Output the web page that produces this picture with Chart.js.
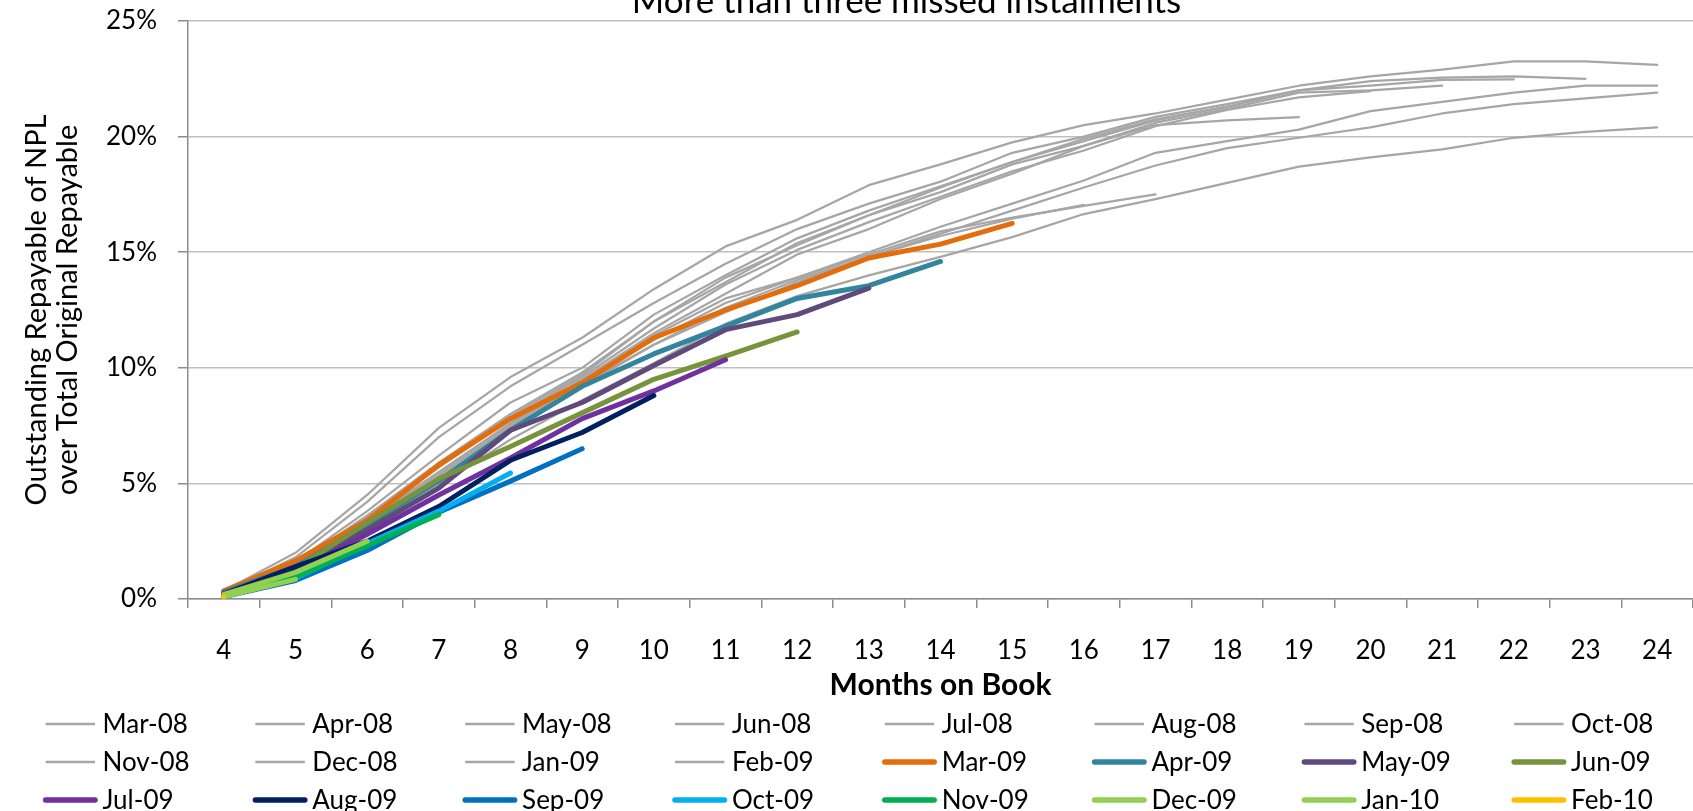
<!DOCTYPE html>
<html>
<head>
<meta charset="utf-8">
<script src="https://cdn.jsdelivr.net/npm/chart.js@4.4.1/dist/chart.umd.min.js"></script>
<style>
  html, body { margin: 0; padding: 0; background: #fff; }
  #wrap { width: 1693px; height: 811px; }
</style>
</head>
<body>
<div id="wrap"><canvas id="grafico" width="1693" height="811"></canvas></div>
<script>
// Months on book (x axis categories)
const months = ['4', '5', '6', '7', '8', '9', '10', '11', '12', '13', '14', '15', '16', '17', '18', '19', '20', '21', '22', '23', '24'];

// Outstanding NPL / original repayable, in %, by vintage
const mar08 = [0.35, 2.0, 4.5, 7.4, 9.6, 11.3, 13.4, 15.25, 16.4, 17.9, 18.8, 19.75, 20.5, 21.0, 21.6, 22.2, 22.6, 22.9, 23.25, 23.25, 23.1];
const apr08 = [0.3, 1.4, 3.4, 5.4, 7.6, 9.5, 11.4, 13.0, 13.9, 15.0, 16.1, 17.1, 18.1, 19.3, 19.8, 20.3, 21.1, 21.5, 21.9, 22.2, 22.2];
const may08 = [0.3, 1.3, 3.2, 5.2, 7.4, 9.2, 11.0, 12.6, 13.8, 14.8, 15.8, 16.8, 17.8, 18.75, 19.5, 19.95, 20.4, 21.0, 21.4, 21.65, 21.9];
const jun08 = [0.25, 1.3, 3.0, 4.9, 6.9, 8.6, 10.2, 11.9, 13.1, 14.0, 14.8, 15.65, 16.65, 17.3, 18.0, 18.7, 19.1, 19.45, 19.95, 20.2, 20.4];
const jul08 = [0.3, 1.8, 4.2, 7.0, 9.2, 11.0, 12.8, 14.5, 16.0, 17.1, 18.05, 19.3, 20.0, 20.85, 21.4, 22.0, 22.4, 22.55, 22.6, 22.5];
const aug08 = [0.3, 1.6, 3.8, 6.2, 8.5, 10.0, 12.3, 14.0, 15.6, 16.8, 17.85, 18.9, 19.8, 20.7, 21.3, 22.0, 22.2, 22.45, 22.47];
const sep08 = [0.3, 1.5, 3.6, 5.9, 8.0, 9.8, 12.0, 13.7, 15.4, 16.6, 17.6, 18.8, 19.6, 20.6, 21.2, 21.9, 22.0, 22.2];
const oct08 = [0.3, 1.5, 3.5, 5.7, 7.8, 9.6, 11.7, 13.6, 15.1, 16.3, 17.4, 18.5, 19.4, 20.45, 21.15, 21.7, 21.97];
const nov08 = [0.3, 1.4, 3.4, 5.5, 7.6, 9.5, 11.5, 13.2, 14.9, 16.0, 17.3, 18.4, 19.6, 20.5, 20.7, 20.84];
const dec08 = [0.3, 1.5, 3.6, 5.8, 7.9, 9.7, 12.0, 13.9, 15.3, 16.6, 17.8, 18.9, 19.9, 20.75, 21.3];
const jan09 = [0.3, 1.4, 3.3, 5.3, 7.5, 9.4, 11.2, 12.8, 13.9, 14.9, 15.9, 16.5, 17.0, 17.5];
const feb09 = [0.3, 1.4, 3.3, 5.2, 7.4, 9.3, 11.0, 12.4, 13.7, 14.8, 15.7, 16.45, 17.05];
const mar09 = [0.35, 1.65, 3.4, 5.8, 7.8, 9.35, 11.3, 12.5, 13.55, 14.75, 15.35, 16.25];
const apr09 = [0.3, 1.4, 3.2, 5.1, 7.3, 9.2, 10.6, 11.8, 13.0, 13.55, 14.6];
const may09 = [0.25, 1.3, 3.0, 4.8, 7.3, 8.5, 10.1, 11.65, 12.3, 13.45];
const jun09 = [0.2, 1.3, 3.3, 5.2, 6.6, 8.05, 9.5, 10.5, 11.55];
const jul09 = [0.2, 1.2, 2.8, 4.5, 6.1, 7.8, 9.0, 10.35];
const aug09 = [0.2, 1.4, 2.5, 4.0, 6.0, 7.2, 8.8];
const sep09 = [0.1, 0.8, 2.1, 3.75, 5.1, 6.5];
const oct09 = [0.1, 0.9, 2.4, 3.8, 5.45];
const nov09 = [0.1, 0.95, 2.3, 3.65];
const dec09 = [0.2, 1.15, 2.5];
const jan10 = [0.1, 0.85];
const feb10 = [0.1];

const vintages = ['Mar-08', 'Apr-08', 'May-08', 'Jun-08', 'Jul-08', 'Aug-08', 'Sep-08', 'Oct-08',
                  'Nov-08', 'Dec-08', 'Jan-09', 'Feb-09', 'Mar-09', 'Apr-09', 'May-09', 'Jun-09',
                  'Jul-09', 'Aug-09', 'Sep-09', 'Oct-09', 'Nov-09', 'Dec-09', 'Jan-10', 'Feb-10'];
const seriesValues = [mar08, apr08, may08, jun08, jul08, aug08, sep08, oct08,
                      nov08, dec08, jan09, feb09, mar09, apr09, may09, jun09,
                      jul09, aug09, sep09, oct09, nov09, dec09, jan10, feb10];
const yTicks = [0, 5, 10, 15, 20, 25];

const GREY = '#A6A6A6';
const colours = [GREY, GREY, GREY, GREY, GREY, GREY, GREY, GREY,
                 GREY, GREY, GREY, GREY, '#E46C0A', '#31859C', '#604A7B', '#77933C',
                 '#7030A0', '#002060', '#0070C0', '#00B0F0', '#00B050', '#92D050', '#92D050', '#FFC000'];

const FONT = 'Lato';
Chart.defaults.font.family = FONT;
Chart.defaults.color = '#000';

const datasets = vintages.map((name, i) => ({
    label: name,
    data: seriesValues[i],
    borderColor: colours[i],
    backgroundColor: colours[i],
    borderWidth: colours[i] === GREY ? 2.25 : 5,
    pointRadius: 0,
    pointHoverRadius: 0,
    tension: 0,
    fill: false,
    borderJoinStyle: 'round',
    borderCapStyle: 'round',
    order: -i            // later vintages drawn on top, like the original
}));

// Title sits partly above the canvas, as in the original picture
const titlePlugin = {
    id: 'cutTitle',
    afterDraw(chart) {
        const ctx = chart.ctx;
        ctx.save();
        ctx.font = '35px ' + FONT;
        ctx.fillStyle = '#000';
        ctx.textAlign = 'center';
        ctx.textBaseline = 'alphabetic';
        ctx.fillText('More than three missed instalments', chart.width / 2 + 60, 13);
        ctx.restore();
    }
};

// Excel-style legend: fixed grid of 8 columns
const gridLegend = {
    id: 'gridLegend',
    afterDraw(chart) {
        const ctx = chart.ctx;
        const x0 = 43.6, colW = 209.8, y0 = 724, rowH = 38, sample = 53.4;
        ctx.save();
        ctx.font = '26px ' + FONT;
        ctx.textBaseline = 'middle';
        ctx.textAlign = 'left';
        chart.data.datasets.forEach((ds, i) => {
            const x = x0 + (i % 8) * colW;
            const y = y0 + Math.floor(i / 8) * rowH;
            ctx.strokeStyle = ds.borderColor;
            ctx.lineWidth = ds.borderColor === GREY ? 2.5 : 5.5;
            ctx.lineCap = ds.borderColor === GREY ? 'butt' : 'round';
            ctx.beginPath();
            ctx.moveTo(x + 2, y);
            ctx.lineTo(x + sample - 2, y);
            ctx.stroke();
            ctx.fillStyle = '#000';
            ctx.fillText(ds.label, x + sample + 5.5, y + 1);
        });
        ctx.restore();
    }
};

new Chart(document.getElementById('grafico').getContext('2d'), {
    type: 'line',
    data: { labels: months, datasets: datasets },
    plugins: [titlePlugin, gridLegend],
    options: {
        responsive: false,
        animation: false,
        layout: { padding: { top: 21, right: 0, bottom: 102, left: 0 } },
        plugins: {
            legend: { display: false },
            tooltip: { enabled: false },
            title: { display: false }
        },
        scales: {
            x: {
                type: 'category',
                offset: true,
                grid: { offset: true, drawOnChartArea: false, drawTicks: true, tickLength: 9, tickColor: '#8C8C8C', lineWidth: 1.5 },
                border: { display: true, color: '#8C8C8C', width: 1.5 },
                ticks: { font: { size: 26 }, color: '#000', padding: 27, maxRotation: 0, autoSkip: false },
                title: {
                    display: true,
                    text: 'Months on Book',
                    font: { size: 30, weight: 'bold', lineHeight: '32px' },
                    color: '#000',
                    padding: { top: 0, bottom: 8 }
                },
                afterFit(scale) {
                    scale.height = 110;
                    scale.paddingLeft = 0;
                    scale.paddingRight = 0;
                }
            },
            y: {
                min: 0,
                max: 25,
                afterBuildTicks(scale) { scale.ticks = yTicks.map(v => ({ value: v })); },
                grid: { color: '#BFBFBF', lineWidth: 1.5, tickLength: 10, tickColor: '#8C8C8C' },
                border: { display: true, color: '#8C8C8C', width: 1.5 },
                ticks: { font: { size: 26 }, color: '#000', padding: 21, callback: v => v + '%' },
                title: {
                    display: true,
                    text: ['Outstanding Repayable of NPL', 'over Total Original Repayable'],
                    font: { size: 29, lineHeight: '31px' },
                    color: '#000',
                    padding: { top: 21, bottom: 0 }
                },
                afterFit(scale) {
                    scale.width = 188;
                    scale.paddingTop = 0;
                }
            }
        }
    }
});
</script>
</body>
</html>
